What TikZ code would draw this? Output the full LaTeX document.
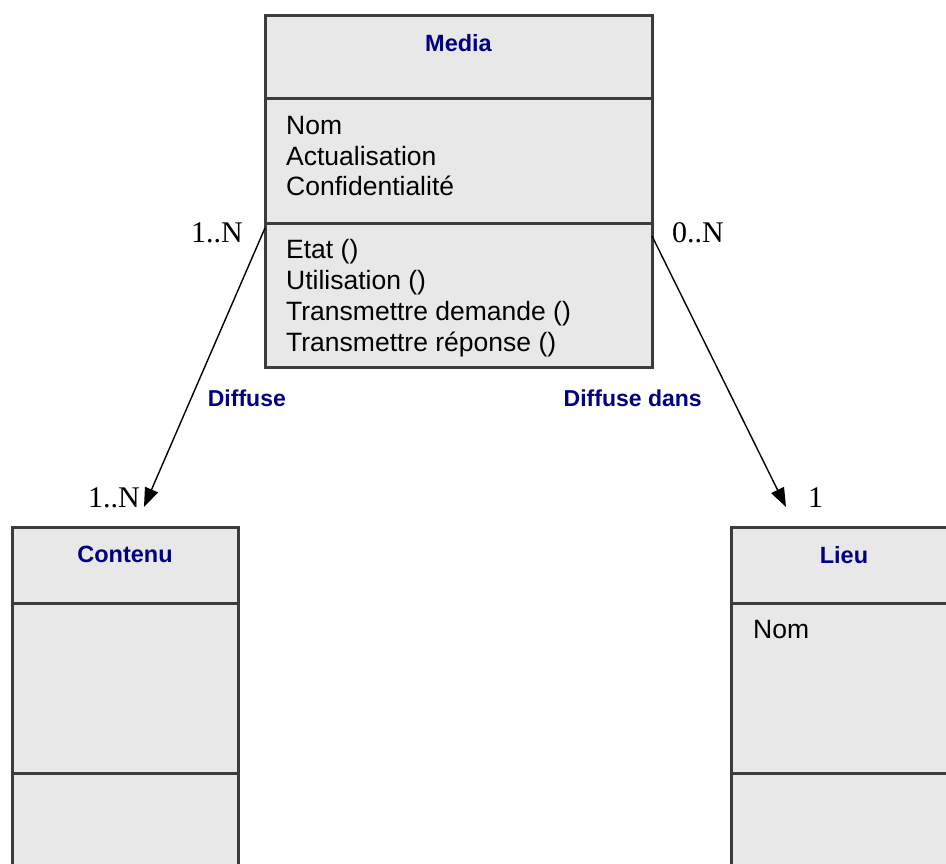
\documentclass[tikz,border=0pt]{standalone}
\usepackage{fontspec}
\setmainfont{Liberation Sans}
\newfontfamily\timesfont{Liberation Serif}
\usetikzlibrary{positioning,arrows.meta}
\definecolor{umlfill}{RGB}{232,232,232}
\definecolor{umlline}{RGB}{60,60,60}
\definecolor{umlname}{RGB}{0,0,128}

\begin{document}
\begin{tikzpicture}[
  x=1pt,y=-1pt,
  >={Triangle[length=19pt,width=14pt]},
  part/.style={draw=umlline,line width=3pt,fill=umlfill,anchor=north west,
    inner sep=0pt,outer sep=0pt,minimum width=226pt},
  clsname/.style={font=\fontsize{23.5}{27}\selectfont\bfseries,text=umlname,inner sep=0pt},
  members/.style={font=\fontsize{26.5}{30.7}\selectfont,align=left,inner sep=0pt,anchor=base west},
  mult/.style={font=\fontsize{30}{34}\timesfont,inner sep=0pt},
  assoc/.style={->,line width=1.4pt},
  role/.style={font=\fontsize{23}{27}\selectfont\bfseries,text=umlname,inner sep=0pt}
]
  \useasboundingbox (0,0) rectangle (946,864);

  % Media
  \node[part,minimum width=387pt,minimum height=83pt] (mediahead) at (265,16) {};
  \node[part,minimum width=387pt,minimum height=125pt] (mediaattr) at (mediahead.south west) {};
  \node[part,minimum width=387pt,minimum height=143pt] (mediaops) at (mediaattr.south west) {};
  \node[clsname,below=18pt of mediahead.north] (medianame) {Media};
  % base anchor = last line
  \node[members] (mediaattrs) at ([xshift=21pt,yshift=-97pt]mediaattr.north west)
    {Nom\\Actualisation\\Confidentialité};
  \node[members] (mediaopers) at ([xshift=21pt,yshift=-127pt]mediaops.north west)
    {Etat ()\\Utilisation ()\\Transmettre demande ()\\Transmettre réponse ()};

  % Contenu
  \node[part,minimum height=76pt] (contenuhead) at (12,527) {};
  \node[part,minimum height=170pt] (contenuattr) at (contenuhead.south west) {};
  \node[part,minimum height=160pt] (contenuops) at (contenuattr.south west) {};
  \node[clsname,below=19pt of contenuhead.north] (contenuname) {Contenu};

  % Lieu
  \node[part,minimum height=76pt] (lieuhead) at (731,527) {};
  \node[part,minimum height=170pt] (lieuattr) at (lieuhead.south west) {};
  \node[part,minimum height=160pt] (lieuops) at (lieuattr.south west) {};
  \node[clsname,below=19pt of lieuhead.north] (lieuname) {Lieu};
  \node[members] (lieuattrs) at ([xshift=22pt,yshift=-35pt]lieuattr.north west) {Nom};

  % associations
  \coordinate (diffstart) at ([yshift=-4pt]mediaops.north west);
  \coordinate (diffend) at ([xshift=19pt,yshift=20pt]contenuhead.north);
  \coordinate (dansstart) at ([yshift=-12pt]mediaops.north east);
  \coordinate (dansend) at ([xshift=55pt,yshift=20pt]lieuhead.north west);

  \draw[assoc] (diffstart) -- node[role,pos=0.61,right=16pt]{Diffuse} (diffend);
  \draw[assoc] (dansstart) -- node[role,pos=0.6,left=30pt]{Diffuse dans} (dansend);

  \node[mult,anchor=base east] (m1) at ([xshift=-22pt,yshift=-18pt]mediaops.north west) {1..N};
  \node[mult,anchor=base west] (m2) at ([xshift=20pt,yshift=-18pt]mediaops.north east) {0..N};
  \node[mult,anchor=base east] (m3) at ([xshift=-4pt]diffend) {1..N};
  \node[mult,anchor=base west] (m4) at ([xshift=22pt]dansend) {1};
\end{tikzpicture}
\end{document}
